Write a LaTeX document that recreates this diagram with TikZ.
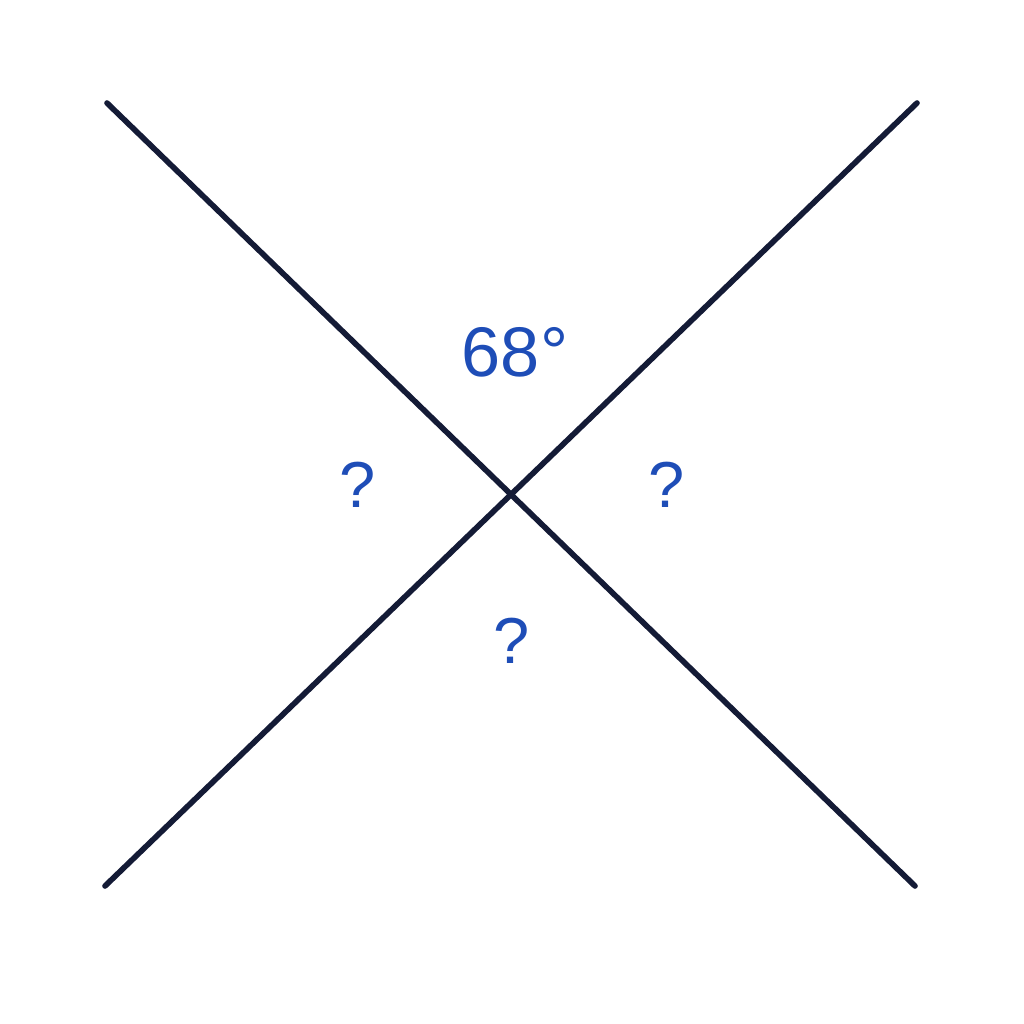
\documentclass[tikz,border=0pt]{standalone}
\usepackage{fontspec}
\setmainfont{Liberation Sans}
\definecolor{navyline}{RGB}{20,27,54}
\definecolor{anglblue}{RGB}{30,77,183}

\begin{document}
\begin{tikzpicture}[x=0.02cm,y=-0.02cm,
  crossline/.style={navyline,line width=3.2pt,line cap=round},
  anglabel/.style={anglblue,font=\fontsize{40}{40}\selectfont,inner sep=0pt},
  qlabel/.style={anglabel,font=\fontsize{37}{37}\selectfont}]
  \useasboundingbox (0,0) rectangle (1024,1024);
  % end points of the two lines
  \coordinate (tl) at (107,103);
  \coordinate (br) at (915,886);
  \coordinate (tr) at (917,103);
  \coordinate (bl) at (105,886);
  \draw[crossline] (tl) -- (br);
  \draw[crossline] (tr) -- (bl);
  % angle labels
  \node[anglabel] (top) at (515,352) {68°};
  \node[qlabel] (left) at (358,485) {?};
  \node[qlabel] (right) at (667,485) {?};
  \node[qlabel] (bottom) at (512,641) {?};
\end{tikzpicture}
\end{document}
